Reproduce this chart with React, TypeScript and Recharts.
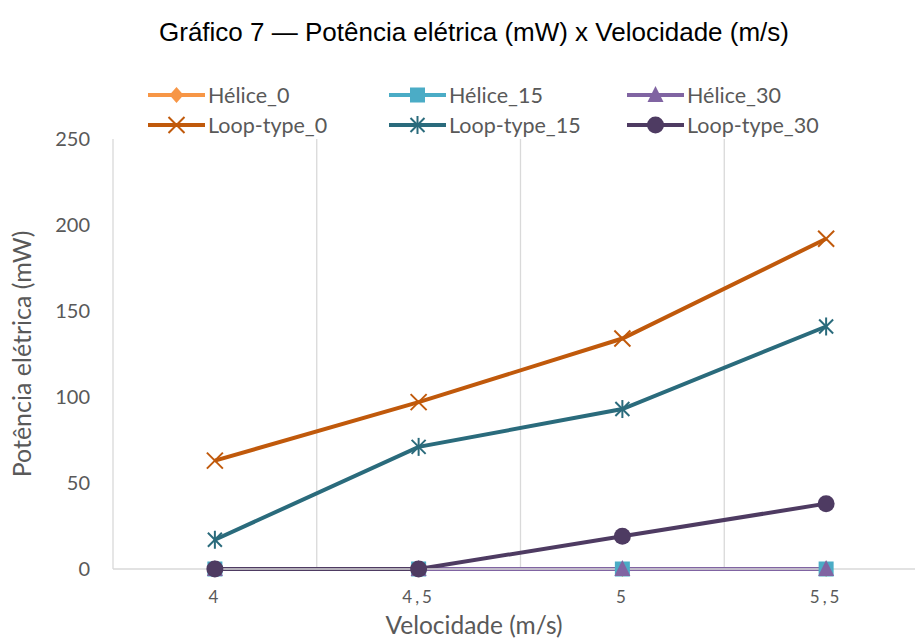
import { CartesianGrid, Legend, Line, LineChart, XAxis, YAxis } from 'recharts'

const velocidades = ['4', '4,5', '5', '5,5']
const helice0 = [0, 0, 0, 0]
const helice15 = [0, 0, 0, 0]
const helice30 = [0, 0, 0, 0]
const loop0 = [63, 97, 134, 192]
const loop15 = [17, 71, 93, 141]
const loop30 = [0, 0, 19, 38]
const yTicks = [0, 50, 100, 150, 200, 250]

type Shape = 'diamond' | 'square' | 'triangle' | 'x' | 'star' | 'circle'

const series: { key: string; name: string; color: string; shape: Shape; values: number[] }[] = [
  { key: 'h0', name: 'Hélice_0', color: '#F79646', shape: 'diamond', values: helice0 },
  { key: 'h15', name: 'Hélice_15', color: '#4BACC6', shape: 'square', values: helice15 },
  { key: 'h30', name: 'Hélice_30', color: '#8064A2', shape: 'triangle', values: helice30 },
  { key: 'l0', name: 'Loop-type_0', color: '#C0590B', shape: 'x', values: loop0 },
  { key: 'l15', name: 'Loop-type_15', color: '#2A6B7C', shape: 'star', values: loop15 },
  { key: 'l30', name: 'Loop-type_30', color: '#4E3B62', shape: 'circle', values: loop30 },
]

const data = velocidades.map((v, i) => {
  const row: Record<string, string | number> = { v }
  series.forEach((s) => {
    row[s.key] = s.values[i]
  })
  return row
})

const CHART_W = 940
const CHART_H = 641
const PLOT_W = 815
const PAD = PLOT_W / (velocidades.length * 2)
const AXIS_FONT = 'Lato, "Open Sans", sans-serif'
const GRAY = '#595959'

function Marker({ shape, cx, cy, color }: { shape: Shape; cx: number; cy: number; color: string }) {
  switch (shape) {
    case 'diamond':
      return <polygon points={`${cx},${cy - 8} ${cx + 7},${cy} ${cx},${cy + 8} ${cx - 7},${cy}`} fill={color} />
    case 'square':
      return <rect x={cx - 7.5} y={cy - 7.5} width={15} height={15} fill={color} />
    case 'triangle':
      return <polygon points={`${cx},${cy - 9} ${cx + 8},${cy + 7} ${cx - 8},${cy + 7}`} fill={color} />
    case 'x':
      return (
        <g stroke={color} strokeWidth={2}>
          <line x1={cx - 8} y1={cy - 8} x2={cx + 8} y2={cy + 8} />
          <line x1={cx - 8} y1={cy + 8} x2={cx + 8} y2={cy - 8} />
        </g>
      )
    case 'star':
      return (
        <g stroke={color} strokeWidth={2}>
          <line x1={cx - 7} y1={cy - 7} x2={cx + 7} y2={cy + 7} />
          <line x1={cx - 7} y1={cy + 7} x2={cx + 7} y2={cy - 7} />
          <line x1={cx} y1={cy - 9} x2={cx} y2={cy + 9} />
        </g>
      )
    default:
      return <circle cx={cx} cy={cy} r={8.5} fill={color} />
  }
}

function LegendBox() {
  const cols = [148, 389, 627]
  const rows = [15, 45]
  return (
    <div style={{ position: 'relative', height: 59 }}>
      {series.map((s, i) => (
        <div
          key={s.key}
          style={{
            position: 'absolute',
            left: cols[i % 3],
            top: rows[Math.floor(i / 3)] - 13,
            display: 'flex',
            alignItems: 'center',
            height: 26,
            whiteSpace: 'nowrap',
          }}
        >
          <svg width={58} height={24}>
            <line x1={0} y1={12} x2={57} y2={12} stroke={s.color} strokeWidth={4} />
            <Marker shape={s.shape} cx={28.5} cy={12} color={s.color} />
          </svg>
          <span style={{ fontFamily: AXIS_FONT, fontSize: 21.5, color: GRAY, marginLeft: 2 }}>{s.name}</span>
        </div>
      ))}
    </div>
  )
}

export default function App() {
  return (
    <div
      style={{
        position: 'absolute',
        left: 0,
        top: 0,
        width: 915,
        height: 641,
        overflow: 'hidden',
        background: '#fff',
      }}
    >
      <div
        style={{
          position: 'absolute',
          top: 16,
          left: 0,
          width: 948,
          textAlign: 'center',
          fontFamily: '"Liberation Sans", Arial, sans-serif',
          fontSize: 26,
          lineHeight: '32px',
          color: '#000',
        }}
      >
        Gráfico 7 — Potência elétrica (mW) x Velocidade (m/s)
      </div>
      <LineChart
        width={CHART_W}
        height={CHART_H}
        data={data}
        margin={{ top: 80, right: CHART_W - 928, bottom: 0, left: 0 }}
        style={{ position: 'absolute', left: 0, top: 0 }}
      >
        <CartesianGrid
          horizontal={false}
          stroke='#D9D9D9'
          strokeWidth={1.3}
          verticalCoordinatesGenerator={({ offset }: any) => {
            const bw = offset.width / velocidades.length
            return velocidades.map((_, i) => offset.left + i * bw)
          }}
        />
        <XAxis
          dataKey='v'
          padding={{ left: PAD, right: PAD }}
          height={72}
          tickSize={0}
          tickMargin={22}
          axisLine={{ stroke: '#D9D9D9', strokeWidth: 1.3 }}
          tick={{ fill: GRAY, fontSize: 17, fontFamily: AXIS_FONT, letterSpacing: 3 }}
          label={{
            content: () => (
              <text x={474} y={634} textAnchor='middle' fill={GRAY} fontSize={24.5} fontFamily={AXIS_FONT}>
                Velocidade (m/s)
              </text>
            ),
          }}
        />
        <YAxis
          domain={[0, 250]}
          ticks={yTicks}
          width={113}
          tickSize={0}
          tickMargin={23}
          axisLine={false}
          tick={{ fill: GRAY, fontSize: 20, fontFamily: AXIS_FONT }}
          label={{
            content: ({ viewBox }: any) => {
              const x = 31
              const y = viewBox.y + viewBox.height / 2
              return (
                <text
                  x={x}
                  y={y}
                  transform={`rotate(-90, ${x}, ${y})`}
                  textAnchor='middle'
                  fill={GRAY}
                  fontSize={25}
                  fontFamily={AXIS_FONT}
                >
                  Potência elétrica (mW)
                </text>
              )
            },
          }}
        />
        <Legend
          verticalAlign='top'
          wrapperStyle={{ left: 0, top: 80, width: 915 }}
          content={() => <LegendBox />}
        />
        {series.map((s) => (
          <Line
            key={s.key}
            dataKey={s.key}
            name={s.name}
            stroke={s.color}
            strokeWidth={4}
            isAnimationActive={false}
            dot={(p: any) => (
              <Marker key={`${s.key}-${p.index}`} shape={s.shape} cx={p.cx} cy={p.cy} color={s.color} />
            )}
          />
        ))}
      </LineChart>
    </div>
  )
}
